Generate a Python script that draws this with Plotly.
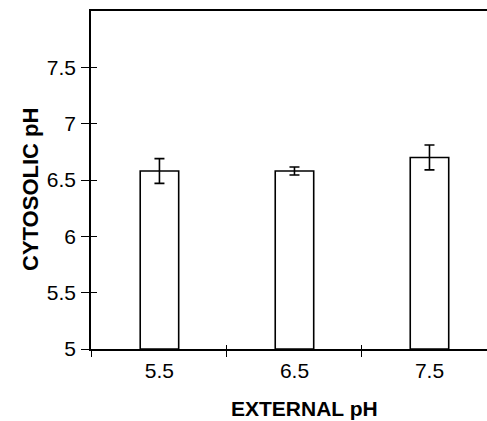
import plotly.graph_objects as go

categories = ["5.5", "6.5", "7.5"]
cytosolic_ph = [6.58, 6.58, 6.70]
error_ph = [0.11, 0.035, 0.11]
y_tick_vals = [5, 5.5, 6, 6.5, 7, 7.5]
y_tick_text = ["5", "5.5", "6", "6.5", "7", "7.5"]

FONT = "Liberation Sans, Arial, sans-serif"
W, H = 487, 421
L, R, T, B = 91, 0, 11, 72
pw = W - L - R
ph = H - T - B

x_left = -0.507
x_right = 2.426

fig = go.Figure()
fig.add_trace(go.Bar(
    x=categories, y=[v - 5 for v in cytosolic_ph], base=5,
    width=0.285,
    marker=dict(color="white", line=dict(color="black", width=1.6)),
    error_y=dict(type="data", array=error_ph, visible=True,
                 color="black", thickness=1.6, width=5),
    showlegend=False,
))
# invisible helper traces for the overlay axes
fig.add_trace(go.Scatter(x=[0], y=[5], xaxis="x2", yaxis="y2",
                         mode="markers", marker=dict(opacity=0),
                         showlegend=False, hoverinfo="skip"))
fig.add_trace(go.Scatter(x=[0], y=[5], xaxis="x3", yaxis="y",
                         mode="markers", marker=dict(opacity=0),
                         showlegend=False, hoverinfo="skip"))

fig.update_layout(
    width=W, height=H,
    margin=dict(l=L, r=R, t=T, b=B, pad=0),
    paper_bgcolor="white", plot_bgcolor="white",
    bargap=0.7,
    font=dict(family=FONT, color="black", size=21),
    xaxis=dict(
        type="category", range=[x_left, x_right],
        tickson="boundaries", ticks="outside", ticklen=6, tickwidth=1.4,
        tickcolor="black", showline=True, linecolor="black", linewidth=1.6,
        showgrid=False, zeroline=False,
        tickfont=dict(size=21, family=FONT), ticklabelstandoff=2,
    ),
    xaxis2=dict(
        overlaying="x", range=[x_left, x_right], tickvals=[-0.5, 0.5, 1.5],
        ticks="inside", ticklen=4, tickwidth=1.4, tickcolor="black",
        showticklabels=False, showgrid=False, zeroline=False, showline=False,
        anchor="y2",
    ),
    xaxis3=dict(
        overlaying="x", side="top", range=[x_left, x_right],
        showticklabels=False, ticks="", showgrid=False, zeroline=False,
        showline=True, linecolor="black", linewidth=1.6, anchor="y",
    ),
    yaxis=dict(
        range=[5, 8], tickvals=y_tick_vals, ticktext=y_tick_text,
        ticks="outside", ticklen=8, tickwidth=1.4, tickcolor="black",
        showline=True, linecolor="black", linewidth=1.6,
        showgrid=False, zeroline=False,
        tickfont=dict(size=21, family=FONT), ticklabelstandoff=1,
    ),
    yaxis2=dict(
        overlaying="y", range=[5, 8], tickvals=y_tick_vals,
        ticks="inside", ticklen=6, tickwidth=1.4, tickcolor="black",
        showticklabels=False, showgrid=False, zeroline=False, showline=False,
        anchor="x2",
    ),
    annotations=[
        dict(text="<b>CYTOSOLIC pH</b>", textangle=-90,
             xref="paper", yref="paper",
             x=(31 - L) / pw, y=(349 - 190) / ph,
             xanchor="center", yanchor="middle", showarrow=False,
             font=dict(size=22, family=FONT, color="black")),
        dict(text="<b>EXTERNAL pH</b>",
             xref="paper", yref="paper",
             x=(304 - L) / pw, y=(349 - 408.5) / ph,
             xanchor="center", yanchor="middle", showarrow=False,
             font=dict(size=21, family=FONT, color="black")),
    ],
)

fig.write_html("out.html")
